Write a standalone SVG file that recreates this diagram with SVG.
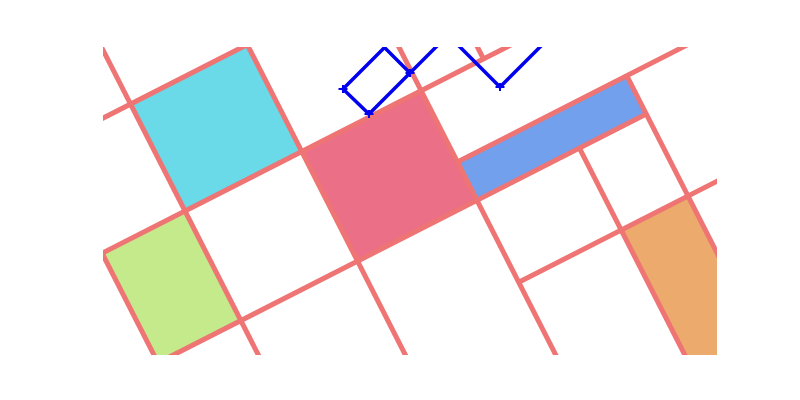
<svg xmlns="http://www.w3.org/2000/svg" width="800" height="400" viewBox="0 0 800 400">
  <defs>
    <clipPath id="frame">
      <rect x="103" y="47" width="614" height="308"/>
    </clipPath>
    <marker id="tick" viewBox="-6 -6 12 12" markerWidth="12" markerHeight="12" markerUnits="userSpaceOnUse" orient="0">
      <path d="M-4.5,0 H4.5 M0,-4 V4" stroke="#0000ee" stroke-width="2" fill="none"/>
    </marker>
  </defs>
  <style>
    .grid { stroke: #ef7474; stroke-width: 5; fill: none; }
    .cell { stroke: none; }
    .trace { stroke: #0000ee; stroke-width: 3.5; fill: none; stroke-linejoin: miter; }
  </style>
  <rect width="800" height="400" fill="#ffffff"/>
  <g clip-path="url(#frame)">
    <g transform="translate(185,211) rotate(-27)">
      <g id="cyan-cell"><rect class="cell" x="0" y="-120" width="131" height="120" fill="#6ad9e8"/></g>
      <g id="pink-cell"><rect class="cell" x="131" y="0" width="134" height="123" fill="#ec6f88"/></g>
      <g id="blue-cell"><rect class="cell" x="265" y="80" width="190" height="43" fill="#72a0ec"/></g>
      <g id="green-cell"><rect class="cell" x="-93" y="0" width="93" height="123" fill="#c5ea8c"/></g>
      <g id="orange-cell"><rect class="cell" x="380" y="215" width="75" height="300" fill="#ecaa6c"/></g>
      <g id="grid-lines" class="grid">
        <path d="M0,-400 V400"/>
        <path d="M131,-400 V400"/>
        <path d="M265,-400 V400"/>
        <path d="M-93,0 V400"/>
        <path d="M335,-400 V0"/>
        <path d="M380,123 V500"/>
        <path d="M455,80 V500"/>
        <path d="M-400,-120 H200"/>
        <path d="M-400,0 H700"/>
        <path d="M-400,123 H455"/>
        <path d="M265,80 H700"/>
        <path d="M265,215 H700"/>
      </g>
    </g>
    <g id="connectors">
      <path class="trace" d="M384.5,47.5 L343,89 L369,114 L410,73 Z" marker-mid="url(#tick)"/>
      <path class="trace" d="M410,73 L448,35 L500,87 L560,27" marker-mid="url(#tick)"/>
    </g>
  </g>
</svg>
